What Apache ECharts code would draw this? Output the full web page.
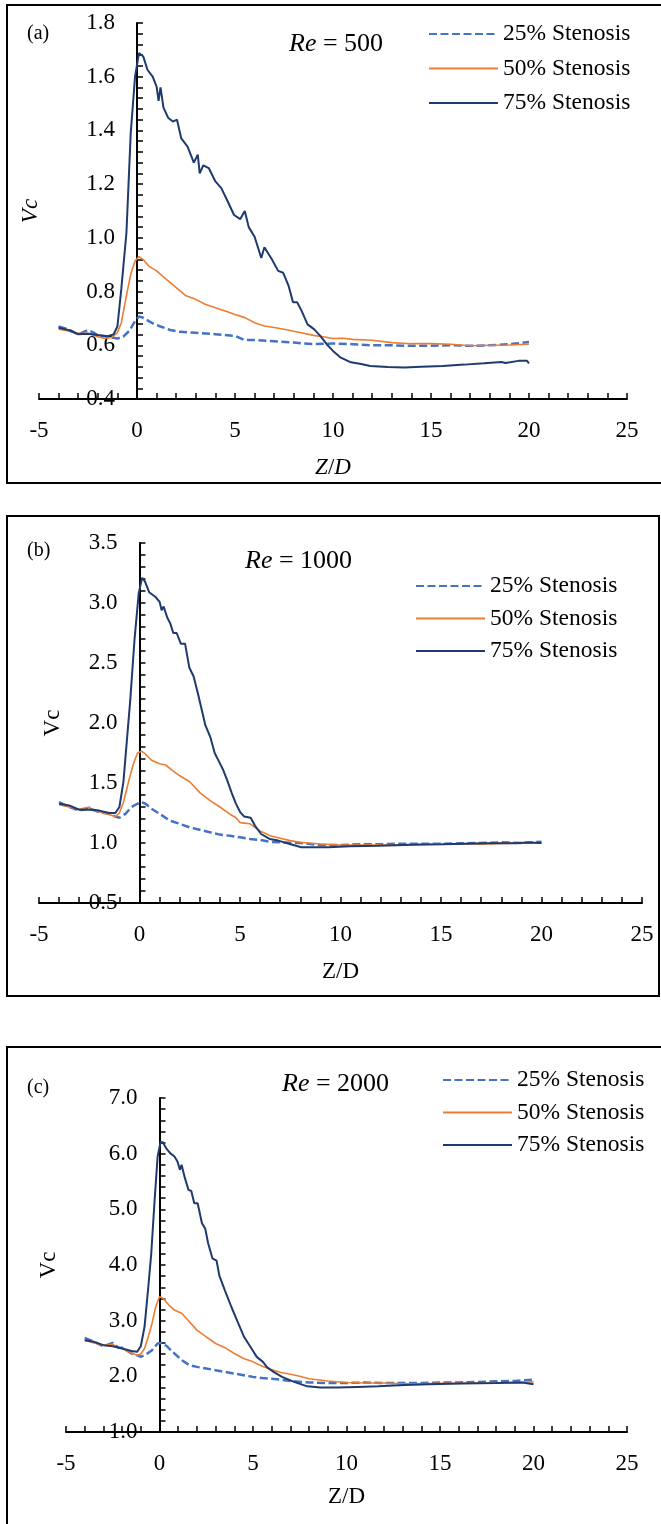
<!DOCTYPE html>
<html>
<head>
<meta charset="utf-8">
<script src="https://cdn.jsdelivr.net/npm/echarts@6/dist/echarts.min.js"></script>
<style>
html,body{margin:0;padding:0;background:#fff;}
#chart{width:661px;height:1524px;}
</style>
</head>
<body>
<div id="chart"></div>
<script>
// ---------- DATA ----------
const seriesNames = ['25% Stenosis', '50% Stenosis', '75% Stenosis'];
const panelLabels = ['(a)', '(b)', '(c)'];
const reValues = ['500', '1000', '2000'];
const xTicks = { min: -5, max: 25, interval: 5 };
const yRangeA = { min: 0.4, max: 1.8, interval: 0.2 };
const yRangeB = { min: 0.5, max: 3.5, interval: 0.5 };
const yRangeC = { min: 1.0, max: 7.0, interval: 1.0 };

// Panel (a) Re = 500
const a25_z = [-4,-3.5,-3,-2.5,-2.2,-2,-1.5,-1.2,-1,-0.7,-0.4,-0.1,0.1,0.3,0.6,0.9,1.2,1.7,2.2,3,4,5,5.5,6,7,8,9,10,11,12,13,14,15,16,17,18,19,20];
const a25_v = [0.67,0.66,0.641,0.657,0.647,0.637,0.632,0.628,0.625,0.632,0.653,0.69,0.707,0.703,0.69,0.678,0.67,0.657,0.65,0.647,0.641,0.635,0.619,0.62,0.615,0.61,0.604,0.607,0.604,0.6,0.6,0.598,0.598,0.6,0.598,0.6,0.604,0.612];
const a50_z = [-4,-3.5,-3,-2.5,-2,-1.7,-1.3,-1,-0.8,-0.5,-0.3,-0.1,0.1,0.3,0.6,1,1.5,2,2.5,3,3.5,4,4.5,5,5.5,6,6.5,7,7.5,8,8.5,9,9.5,10,10.5,11,12,13,14,15,16,17,18,19,20];
const a50_v = [0.66,0.653,0.645,0.645,0.632,0.626,0.628,0.647,0.684,0.80,0.87,0.914,0.93,0.92,0.895,0.877,0.845,0.815,0.784,0.771,0.752,0.74,0.728,0.715,0.703,0.684,0.672,0.666,0.66,0.652,0.645,0.637,0.632,0.625,0.626,0.622,0.619,0.61,0.606,0.606,0.604,0.598,0.6,0.601,0.604];
const a75_z = [-4,-3.5,-3,-2.5,-2,-1.5,-1.2,-1,-0.8,-0.54,-0.32,-0.1,0.1,0.32,0.54,0.8,1.0,1.1,1.2,1.35,1.6,1.83,2.04,2.26,2.58,2.9,3.1,3.2,3.38,3.66,4.0,4.3,4.6,4.95,5.27,5.5,5.7,6.0,6.34,6.5,6.88,7.2,7.46,7.74,7.96,8.17,8.4,8.7,9.03,9.35,9.68,10,10.4,10.86,11.5,11.9,12.8,13.65,14.5,15.6,16.7,17.7,18.6,18.8,19.46,19.9,20];
const a75_v = [0.665,0.657,0.641,0.643,0.638,0.634,0.64,0.67,0.81,1.018,1.39,1.6,1.688,1.675,1.625,1.60,1.563,1.51,1.56,1.485,1.446,1.433,1.44,1.37,1.34,1.28,1.31,1.24,1.27,1.26,1.21,1.185,1.14,1.085,1.07,1.10,1.04,1.004,0.925,0.965,0.92,0.877,0.87,0.82,0.76,0.76,0.728,0.678,0.66,0.635,0.604,0.579,0.554,0.538,0.529,0.523,0.519,0.517,0.52,0.523,0.528,0.533,0.538,0.534,0.542,0.542,0.533];

// Panel (b) Re = 1000
const b25_z = [-4,-3.5,-3,-2.5,-2,-1.5,-1.2,-1,-0.7,-0.4,-0.1,0.1,0.3,0.6,1,1.5,2,2.5,3,3.5,4,4.5,5,5.5,6,6.5,7,8,9,10,11,12,13,14,15,16,17,18,19,20];
const b25_v = [1.34,1.30,1.27,1.29,1.257,1.243,1.22,1.21,1.243,1.30,1.327,1.34,1.327,1.285,1.243,1.187,1.16,1.13,1.11,1.09,1.07,1.06,1.047,1.034,1.025,1.01,1.006,1.0,0.983,0.983,0.99,0.99,0.994,0.994,0.994,0.997,1.0,1.006,1.0,1.01];
const b50_z = [-4,-3.5,-3,-2.5,-2.3,-2,-1.5,-1.2,-1,-0.8,-0.5,-0.3,-0.1,0.1,0.3,0.6,1,1.3,1.6,2,2.5,3,3.5,4,4.5,4.8,5,5.5,6,6.5,7,7.5,8,9,10,11,12,13,14,15,16,17,18,19,20];
const b50_v = [1.32,1.30,1.28,1.30,1.27,1.26,1.235,1.22,1.25,1.34,1.54,1.66,1.75,1.765,1.74,1.69,1.66,1.65,1.61,1.56,1.51,1.42,1.355,1.30,1.24,1.21,1.17,1.16,1.10,1.06,1.04,1.02,1.006,0.992,0.983,0.983,0.983,0.986,0.99,0.99,0.994,0.99,0.997,1.0,1.0];
const b75_z = [-4,-3.5,-3,-2.5,-2,-1.5,-1.2,-1,-0.8,-0.46,-0.25,-0.04,0.13,0.27,0.48,0.8,1.0,1.1,1.2,1.39,1.53,1.68,1.85,2.06,2.27,2.48,2.69,2.9,3.07,3.15,3.28,3.53,3.74,3.95,4.16,4.37,4.58,4.79,5.0,5.21,5.53,5.74,6.05,6.47,6.9,7.52,8.05,8.57,9.4,10.46,11.9,13.6,15.1,17.2,18.66,19.3,20];
const b75_v = [1.327,1.313,1.277,1.28,1.27,1.25,1.25,1.30,1.51,2.19,2.69,3.08,3.21,3.18,3.09,3.05,3.01,2.94,2.97,2.875,2.83,2.75,2.75,2.66,2.66,2.46,2.39,2.25,2.13,2.13,1.98,1.88,1.75,1.68,1.61,1.52,1.42,1.33,1.26,1.22,1.21,1.145,1.075,1.034,1.02,0.99,0.964,0.964,0.964,0.972,0.978,0.986,0.99,0.997,0.997,1.005,1.0];

// Panel (c) Re = 2000
const c25_z = [-4,-3.5,-3,-2.5,-2.2,-2,-1.5,-1.2,-1,-0.7,-0.4,-0.1,0.1,0.4,0.8,1.2,1.6,2,2.5,3,3.5,4,4.5,5,5.5,6,7,8,9,10,11,12,13,14,15,16,17,18,19,20];
const c25_v = [2.69,2.62,2.54,2.6,2.515,2.515,2.41,2.38,2.35,2.40,2.47,2.59,2.6,2.54,2.41,2.29,2.2,2.17,2.14,2.11,2.08,2.05,2.02,1.99,1.97,1.958,1.916,1.89,1.88,1.88,1.89,1.88,1.88,1.88,1.89,1.89,1.9,1.91,1.916,1.94];
const c50_z = [-4,-3.5,-3,-2.5,-2.2,-2,-1.5,-1.2,-1,-0.8,-0.6,-0.4,-0.2,0,0.2,0.5,0.8,1.2,1.6,2,2.5,3,3.5,4,4.5,5,5.5,6,6.5,7,7.5,8,9,10,11,12,13,14,15,16,17,18,19,20];
const c50_v = [2.65,2.6,2.56,2.575,2.515,2.5,2.42,2.38,2.40,2.50,2.71,2.95,3.25,3.43,3.40,3.28,3.19,3.13,2.98,2.83,2.71,2.59,2.515,2.41,2.32,2.26,2.18,2.12,2.07,2.036,2.0,1.958,1.916,1.89,1.88,1.88,1.868,1.868,1.875,1.875,1.88,1.88,1.89,1.9];
const c75_z = [-4,-3.5,-3,-2.5,-2,-1.5,-1.2,-1,-0.8,-0.6,-0.44,-0.26,-0.1,0.06,0.19,0.35,0.57,0.8,0.96,1.09,1.18,1.36,1.55,1.7,1.86,2.04,2.27,2.45,2.6,2.83,3.05,3.2,3.5,3.84,4.18,4.52,4.86,5.2,5.53,5.76,6.1,6.55,7.2,7.9,8.6,9.5,10.6,11.7,13.1,14.4,16.2,18,19.4,20];
const c75_v = [2.65,2.62,2.56,2.54,2.5,2.455,2.44,2.54,2.89,3.6,4.21,5.17,5.95,6.21,6.2,6.1,6.01,5.95,5.86,5.71,5.8,5.56,5.35,5.33,5.11,5.11,4.75,4.65,4.39,4.12,4.08,3.81,3.54,3.25,2.98,2.71,2.53,2.35,2.26,2.16,2.08,1.99,1.9,1.82,1.80,1.80,1.81,1.82,1.845,1.857,1.87,1.88,1.89,1.857];

// ---------- STYLE / LAYOUT ----------
const FONT = '"Liberation Serif", "Times New Roman", serif';
const COLORS = ['#4472C4', '#ED7D31', '#1F3A6E'];
const WIDTHS = [2.5, 1.6, 2];
const TYPES = [[8, 3.5], 'solid', 'solid'];
const LEGEND_TEXT = { color: '#000', fontFamily: FONT, fontSize: 23.5, lineHeight: 23 };

const panels = [
  { grid: { left: 39, top: 23, width: 588, height: 376 }, y: yRangeA, z: [a25_z, a50_z, a75_z], v: [a25_v, a50_v, a75_v],
    italic: true, yGap: 95, xGap: 57, legend: { left: 428, top: 22, gap: 10.5 }, label: { left: 27, top: 24 }, re: { left: 289, top: 31 }, box: [7, 5, 660, 478] },
  { grid: { left: 39, top: 543, width: 603, height: 360 }, y: yRangeB, z: [b25_z, b50_z, b75_z], v: [b25_v, b50_v, b75_v],
    italic: false, yGap: 75, xGap: 57, legend: { left: 415, top: 574, gap: 8.5 }, label: { left: 27, top: 541 }, re: { left: 245, top: 548 }, box: [7, 516, 652, 480] },
  { grid: { left: 66, top: 1098, width: 561, height: 334 }, y: yRangeC, z: [c25_z, c50_z, c75_z], v: [c25_v, c50_v, c75_v],
    italic: false, yGap: 99, xGap: 53, legend: { left: 442, top: 1068, gap: 8.5 }, label: { left: 27, top: 1078 }, re: { left: 282, top: 1071 }, box: [7, 1047, 660, 500] }
];

function zip(zs, vs) { return zs.map((z, i) => [z, vs[i]]); }

const option = {
  animation: false,
  backgroundColor: '#fff',
  textStyle: { fontFamily: FONT, color: '#000' },
  grid: [], xAxis: [], yAxis: [], series: [], legend: [], title: [], graphic: []
};

panels.forEach((p, k) => {
  option.grid.push(Object.assign({ containLabel: false, outerBoundsMode: 'none' }, p.grid));
  // shift y-axis so it sits at Z/D = 0
  const yOffset = -((0 - xTicks.min) / (xTicks.max - xTicks.min)) * p.grid.width;
  option.xAxis.push({
    type: 'value', gridIndex: k, min: xTicks.min, max: xTicks.max, interval: xTicks.interval,
    axisLine: { show: true, onZero: false, lineStyle: { color: '#000', width: 2 } },
    axisTick: { show: true, inside: true, length: 6, lineStyle: { color: '#000', width: 1.5 } },
    minorTick: { show: true, splitNumber: 5, length: 6, lineStyle: { color: '#000', width: 1.5 } },
    splitLine: { show: false },
    axisLabel: { color: '#000', fontFamily: FONT, fontSize: 23, margin: 20 },
    name: p.italic ? '{i|Z}/{i|D}' : 'Z/D',
    nameLocation: 'middle', nameGap: p.xGap,
    nameTextStyle: { color: '#000', fontFamily: FONT, fontSize: 23,
      rich: { i: { fontStyle: 'italic', fontFamily: FONT, fontSize: 23, color: '#000' } } }
  });
  option.yAxis.push({
    type: 'value', gridIndex: k, min: p.y.min, max: p.y.max, interval: p.y.interval,
    offset: yOffset,
    axisLine: { show: true, onZero: false, lineStyle: { color: '#000', width: 2 } },
    axisTick: { show: true, inside: true, length: 6, lineStyle: { color: '#000', width: 1.5 } },
    minorTick: { show: true, splitNumber: 5, length: 6, lineStyle: { color: '#000', width: 1.5 } },
    splitLine: { show: false },
    axisLabel: { color: '#000', fontFamily: FONT, fontSize: 23, margin: 22, formatter: v => v.toFixed(1) },
    name: 'Vc', nameLocation: 'middle', nameGap: p.yGap, nameRotate: 90,
    nameTextStyle: { color: '#000', fontFamily: FONT, fontSize: 23, fontStyle: p.italic ? 'italic' : 'normal' }
  });
  seriesNames.forEach((name, j) => {
    option.series.push({
      type: 'line', name: name, xAxisIndex: k, yAxisIndex: k,
      data: zip(p.z[j], p.v[j]), symbol: 'none', showSymbol: false, smooth: false,
      lineStyle: { color: COLORS[j], width: WIDTHS[j], type: TYPES[j] },
      itemStyle: { color: COLORS[j] }, z: 2 + j
    });
  });
  option.legend.push({
    orient: 'vertical', left: p.legend.left, top: p.legend.top, itemGap: p.legend.gap,
    itemWidth: 69, itemHeight: 14, selectedMode: false, padding: 0,
    data: seriesNames.map(n => ({ name: n, textStyle: Object.assign({}, LEGEND_TEXT) })),
    itemStyle: { opacity: 0, borderWidth: 0 },
    lineStyle: { opacity: 1 },
    textStyle: Object.assign({}, LEGEND_TEXT)
  });
  option.title.push({
    text: panelLabels[k], left: p.label.left, top: p.label.top, padding: 0,
    textStyle: { color: '#000', fontFamily: FONT, fontSize: 20, fontWeight: 'normal' }
  });
  option.title.push({
    text: '{i|Re} = ' + reValues[k], left: p.re.left, top: p.re.top, padding: 0,
    textStyle: { color: '#000', fontFamily: FONT, fontSize: 26, fontWeight: 'normal',
      rich: { i: { fontStyle: 'italic', fontFamily: FONT, fontSize: 26, color: '#000' } } }
  });
  option.graphic.push({
    type: 'rect', silent: true, z: -1,
    shape: { x: p.box[0], y: p.box[1], width: p.box[2], height: p.box[3] },
    style: { fill: 'none', stroke: '#000', lineWidth: 2 }
  });
});

const chart = echarts.init(document.getElementById('chart'), null, { renderer: 'canvas' });
chart.setOption(option);
</script>
</body>
</html>
